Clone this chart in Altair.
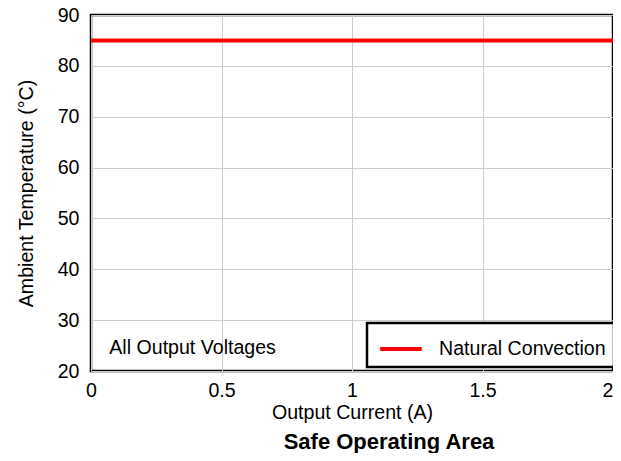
import altair as alt
import pandas as pd

# Data
current = [0, 2]
temperature = [85, 85]
series = ["Natural Convection", "Natural Convection"]

x_ticks = [0, 0.5, 1, 1.5, 2]
y_ticks = [20, 30, 40, 50, 60, 70, 80, 90]

note_text = ["All Output Voltages"]
note_x = [0.07]
note_y = [24.6]

df = pd.DataFrame({"current": current, "temp": temperature, "series": series})
note_df = pd.DataFrame({"x": note_x, "y": note_y, "label": note_text})

FONT = "Liberation Sans"
FS = 19.6

x_enc = alt.X(
    "current:Q",
    scale=alt.Scale(domain=[0, 2], nice=False, zero=False),
    axis=alt.Axis(
        values=x_ticks,
        title="Output Current (A)",
        format="~g",
        labelAlign=alt.expr("datum.value >= 2 ? 'right' : 'center'"),
    ),
)
y_enc = alt.Y(
    "temp:Q",
    scale=alt.Scale(domain=[20, 90], nice=False, zero=False),
    axis=alt.Axis(values=y_ticks, title="Ambient Temperature (°C)"),
)

line = alt.Chart(df).mark_line(strokeWidth=4, clip=True).encode(
    x=x_enc,
    y=y_enc,
    color=alt.Color(
        "series:N",
        scale=alt.Scale(domain=["Natural Convection"], range=["#ff0000"]),
        legend=alt.Legend(
            title=None,
            orient="none",
            legendX=276,
            legendY=308,
            symbolType="M-1.3,0H1.3",
            symbolSize=1024,
            symbolStrokeWidth=4,
            strokeColor="black",
            fillColor="white",
            padding=8,
            symbolOffset=8,
            labelOffset=20,
            labelFontSize=FS,
            labelFont=FONT,
            labelColor="black",
            labelLimit=400,
            cornerRadius=0,
        ),
    ),
)

note = alt.Chart(note_df).mark_text(
    align="left", baseline="middle", fontSize=FS, font=FONT, color="black"
).encode(x="x:Q", y="y:Q", text="label:N")

chart = (
    alt.layer(line, note)
    .properties(
        width=522,
        height=356,
        autosize=alt.AutoSizeParams(type="none"),
        padding={"left": 83, "top": 7, "right": 0, "bottom": 82},
        title=alt.TitleParams(
            "Safe Operating Area",
            orient="bottom",
            anchor="middle",
            fontSize=22,
            fontWeight="bold",
            font=FONT,
            color="black",
            dx=37,
            offset=10,
        ),
    )
    .configure_view(stroke="black", strokeWidth=2.5)
    .configure_legend(strokeWidth=2.5)
    .configure_axis(
        domain=False,
        ticks=False,
        grid=True,
        gridColor="#cccccc",
        gridWidth=1,
        labelFlush=False,
        labelFont=FONT,
        labelFontSize=FS,
        labelColor="black",
        titleFont=FONT,
        titleFontSize=FS,
        titleFontWeight="normal",
        titleColor="black",
    )
    .configure_axisX(labelPadding=10, titlePadding=4)
    .configure_axisY(labelPadding=12, titlePadding=21)
)

chart.save("out.html", embed_options={"renderer": "svg", "actions": False})
